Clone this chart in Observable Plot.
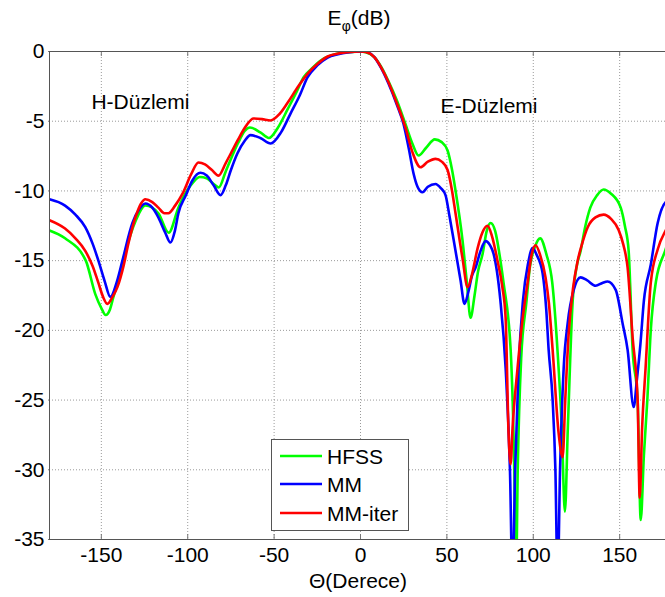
<!DOCTYPE html>
<html><head><meta charset="utf-8">
<script src="https://cdn.jsdelivr.net/npm/d3@7"></script>
<script src="https://cdn.jsdelivr.net/npm/@observablehq/plot@0.6"></script>
<style>
body{margin:0;background:#fff;font-family:"Liberation Sans",Arial,sans-serif;}
#wrap{position:relative;width:665px;height:597px;overflow:hidden;background:#fff;}
.lbl{position:absolute;font-size:21px;line-height:21px;color:#000;text-align:center;white-space:nowrap;}
#legend{position:absolute;left:271px;top:439px;width:136px;height:90px;border:1px solid #555;background:#fff;}
</style></head><body><div id="wrap"></div>
<script>
const seriesNames = ["HFSS", "MM", "MM-iter"];
const seriesColors = ["#00ff00", "#0000ff", "#ff0000"];

const hfssTheta = [-180,-171,-159,-153.5,-150,-147.5,-145,-143,-140,-137,-130,-124.5,-117,-111,-105.4,-100,-97,-93,-89,-85,-82,-78,-71,-67,-64,-58,-53,-48,-42,-37,-33,-28,-23,-13,-5,0,3,8,12,16,21,26,30,33.6,38,43,47,50.4,53,55,59,61.5,63.7,66,68,70.7,73,75.3,78,81,82.8,86.9,89,90,91,93,96,98,101,104,107.5,111,114,116.5,118.3,120,122.8,125,127.4,130,133,137,140.7,145,150.6,153,155.2,157.5,160.4,162.2,164,166,168,171,176.6,180];
const hfssDb = [-12.84,-13.4,-15.0,-17.4,-18.4,-18.9,-18.5,-17.6,-16.3,-14.8,-12.1,-11.05,-11.6,-13.0,-11.2,-9.9,-9.4,-9.0,-9.1,-9.5,-9.75,-8.6,-6.6,-5.7,-5.45,-5.8,-6.2,-5.5,-4.1,-2.9,-1.86,-1.2,-0.65,-0.15,-0.03,0,-0.05,-0.4,-1.1,-2.08,-3.5,-5.2,-6.6,-7.46,-6.9,-6.3,-6.5,-7.1,-8.5,-9.97,-13.5,-16.5,-19.1,-17.5,-15.8,-14.5,-12.9,-12.3,-12.9,-15.0,-16.6,-21.4,-30,-38,-30,-22,-18,-15.5,-14.0,-13.4,-14.5,-16.6,-21.4,-27,-33,-27,-17.9,-15.5,-14.3,-12.6,-11.2,-10.3,-9.9,-10.2,-11.2,-12.5,-14.3,-21.4,-25,-33.6,-29,-25,-20,-16.5,-14.2,-12.84];

const mmTheta = [-180,-171,-165,-159.3,-155,-151.7,-148,-144.8,-141,-137.8,-132,-128,-124.5,-120.5,-117,-113,-110,-107.5,-105.4,-101,-97.3,-92.7,-89,-85,-81,-78,-75,-71.2,-67,-63.7,-58,-52,-46,-40.5,-35,-30.7,-25,-19,-13,-7.5,0,3,8,12,16.2,21,24.9,28,30.7,33,35.9,39,43.4,46.5,49.2,51.5,53.9,57.9,60.2,62.5,64.5,66.6,69.5,72.4,75,77,79,81,84,86.5,88,89.5,91.5,94,97,99.6,102,105.4,107.5,108.9,111.2,112.8,114.1,115.5,117.6,119.9,123.4,127.4,131,136.1,140,143,147.7,151.7,154.6,158.1,160,162,164,168,172,176.6,180];
const mmDb = [-10.6,-11.05,-11.7,-12.6,-13.8,-15.0,-16.5,-17.6,-16.5,-15.0,-12.3,-11.3,-10.9,-11.2,-11.9,-13.0,-13.7,-12.9,-11.6,-10.3,-9.25,-8.7,-8.9,-9.6,-10.3,-9.6,-8.5,-7.3,-6.4,-6.0,-6.2,-6.6,-5.8,-4.45,-3.1,-1.86,-1.0,-0.43,-0.2,-0.07,0,-0.02,-0.4,-1.2,-2.3,-3.8,-5.2,-7.0,-8.75,-9.7,-10.1,-9.7,-9.5,-9.8,-10.3,-11.8,-13.5,-16.4,-18.1,-17.2,-16.1,-15.5,-14.3,-13.6,-13.9,-14.5,-15.8,-17.9,-22.7,-30,-38,-30,-22.7,-17.9,-15.2,-14.1,-14.6,-15.9,-18.5,-21.4,-25,-30,-38,-30,-22.7,-19.5,-17.1,-16.2,-16.4,-16.8,-16.6,-16.5,-17.1,-19.5,-21.4,-25.5,-23.5,-21,-17.9,-15.3,-12.3,-10.8,-10.6];

const iterTheta = [-180,-171,-165,-159.3,-155,-151.7,-149,-146.5,-143.5,-140.7,-137,-134.4,-130,-127,-124.5,-120.5,-117,-113.5,-111.2,-107,-103,-98,-93.8,-90,-86,-82.2,-78,-75,-71.2,-66,-62,-57,-52.1,-47,-42.3,-36,-30.7,-25,-19,-12,-7.5,0,3,8,12,16.2,21,26,30,34.7,39,43.4,47,50.4,53,55,59,62,64.5,67.8,70.5,73.5,76,79.3,82,84,85.7,86.9,88,90.9,93.5,96.7,99,101.3,104,107.1,109,111.2,114.7,117,118.5,120.5,123,125.7,128,131.5,136,140.7,145,149.4,152,154.6,157.5,160.4,161.6,163,165,168,172,176.6,180];
const iterDb = [-12.1,-12.7,-13.4,-14.3,-15.4,-16.6,-17.6,-18.1,-17.6,-16.9,-15.3,-13.8,-11.8,-10.9,-10.6,-10.8,-11.2,-11.6,-11.6,-11.0,-10.2,-8.8,-7.96,-8.1,-8.5,-8.9,-8.0,-7.3,-6.4,-5.3,-4.8,-4.85,-4.95,-4.5,-3.7,-2.5,-1.6,-0.9,-0.36,-0.12,-0.05,0,-0.03,-0.4,-1.15,-2.2,-3.7,-5.45,-7.2,-8.3,-7.9,-7.7,-7.9,-8.5,-10,-11.6,-14.8,-16.9,-16.0,-14.1,-13.0,-12.5,-13.2,-15,-16.8,-19.1,-27.4,-29.6,-27,-22.7,-19.5,-16.6,-14.6,-13.9,-14.6,-16.2,-18,-21.4,-27.4,-29.1,-25,-20.2,-17,-15.0,-13.9,-12.6,-11.9,-11.7,-12,-12.8,-13.8,-15.5,-20.5,-25,-32,-27,-22.7,-16.6,-14.2,-12.85,-12.2];

const xTicks = [-150, -100, -50, 0, 50, 100, 150];
const yTicks = [0, -5, -10, -15, -20, -25, -30, -35];
const annotations = [
  {text: "H-Düzlemi", theta: -127.4, db: -3.66},
  {text: "E-Düzlemi", theta: 74.4, db: -3.9}
];
const titleMain = "E";
const titleSub = "φ";
const titleUnit = "(dB)";
const xLabel = "Θ(Derece)";

const thetas = [hfssTheta, mmTheta, iterTheta];
const dbs = [hfssDb, mmDb, iterDb];
const series = seriesNames.map((name, i) => thetas[i].map((t, j) => ({series: name, theta: t, db: dbs[i][j]})));

const W = 665, H = 597, mL = 49, mT = 51, mB = 58, xRight = 671;
const innerH = H - mT - mB, innerW = xRight - mL;
const tickLen = 5;
const fmt = d => String(d);

const chart = Plot.plot({
  width: W, height: H,
  marginLeft: mL, marginRight: 0, marginTop: mT, marginBottom: mB,
  style: {fontFamily: "Liberation Sans, Arial, sans-serif", fontSize: "21px", background: "transparent", color: "#000"},
  x: {domain: [-180, 180], range: [mL, xRight]},
  y: {domain: [-35, 0]},
  marks: [
    Plot.ruleX(xTicks, {stroke: "#9a9a9a", strokeDasharray: "1,2"}),
    Plot.ruleY(yTicks, {stroke: "#9a9a9a", strokeDasharray: "1,2"}),
    Plot.ruleX(xTicks, {stroke: "#777", insetTop: innerH - tickLen}),
    Plot.ruleX(xTicks, {stroke: "#777", insetBottom: innerH - tickLen}),
    Plot.ruleY(yTicks, {stroke: "#777", insetRight: innerW - tickLen}),
    Plot.axisX(xTicks, {anchor: "bottom", tickSize: 0, tickPadding: 8, fontSize: 21, label: null, fill: "#000", tickFormat: fmt}),
    Plot.axisY(yTicks, {anchor: "left", tickSize: 0, tickPadding: 5, fontSize: 21, label: null, fill: "#000", tickFormat: fmt}),
    ...series.map((data, i) => Plot.line(data, {x: "theta", y: "db", stroke: seriesColors[i], strokeWidth: 2.6, curve: "monotone-x", clip: true})),
    Plot.text(annotations, {x: "theta", y: "db", text: "text", fontSize: 21, fill: "#000"}),
    Plot.frame({stroke: "#555"})
  ]
});

const wrap = document.getElementById("wrap");
wrap.appendChild(chart);
chart.style.position = "absolute";
chart.style.left = "0px";
chart.style.top = "0px";

const title = document.createElement("div");
title.className = "lbl";
title.style.left = "259px"; title.style.width = "200px"; title.style.top = "7px";
title.innerHTML = `${titleMain}<span style="font-size:14px;position:relative;top:6px;">${titleSub}</span>${titleUnit}`;
wrap.appendChild(title);

const xl = document.createElement("div");
xl.className = "lbl";
xl.style.left = "258px"; xl.style.width = "200px"; xl.style.top = "570px";
xl.textContent = xLabel;
wrap.appendChild(xl);

const legend = document.createElement("div");
legend.id = "legend";
const ns = "http://www.w3.org/2000/svg";
const lsvg = document.createElementNS(ns, "svg");
lsvg.setAttribute("width", 136); lsvg.setAttribute("height", 90);
const rowY = [16, 44, 73];
seriesNames.forEach((name, i) => {
  const ln = document.createElementNS(ns, "line");
  ln.setAttribute("x1", 8); ln.setAttribute("x2", 50);
  ln.setAttribute("y1", rowY[i]); ln.setAttribute("y2", rowY[i]);
  ln.setAttribute("stroke", seriesColors[i]); ln.setAttribute("stroke-width", 2.6);
  lsvg.appendChild(ln);
  const tx = document.createElementNS(ns, "text");
  tx.setAttribute("x", 55); tx.setAttribute("y", rowY[i] + 7.5);
  tx.setAttribute("font-size", 21);
  tx.setAttribute("font-family", "Liberation Sans, Arial, sans-serif");
  tx.textContent = name;
  lsvg.appendChild(tx);
});
legend.appendChild(lsvg);
wrap.appendChild(legend);
</script>
</body></html>
